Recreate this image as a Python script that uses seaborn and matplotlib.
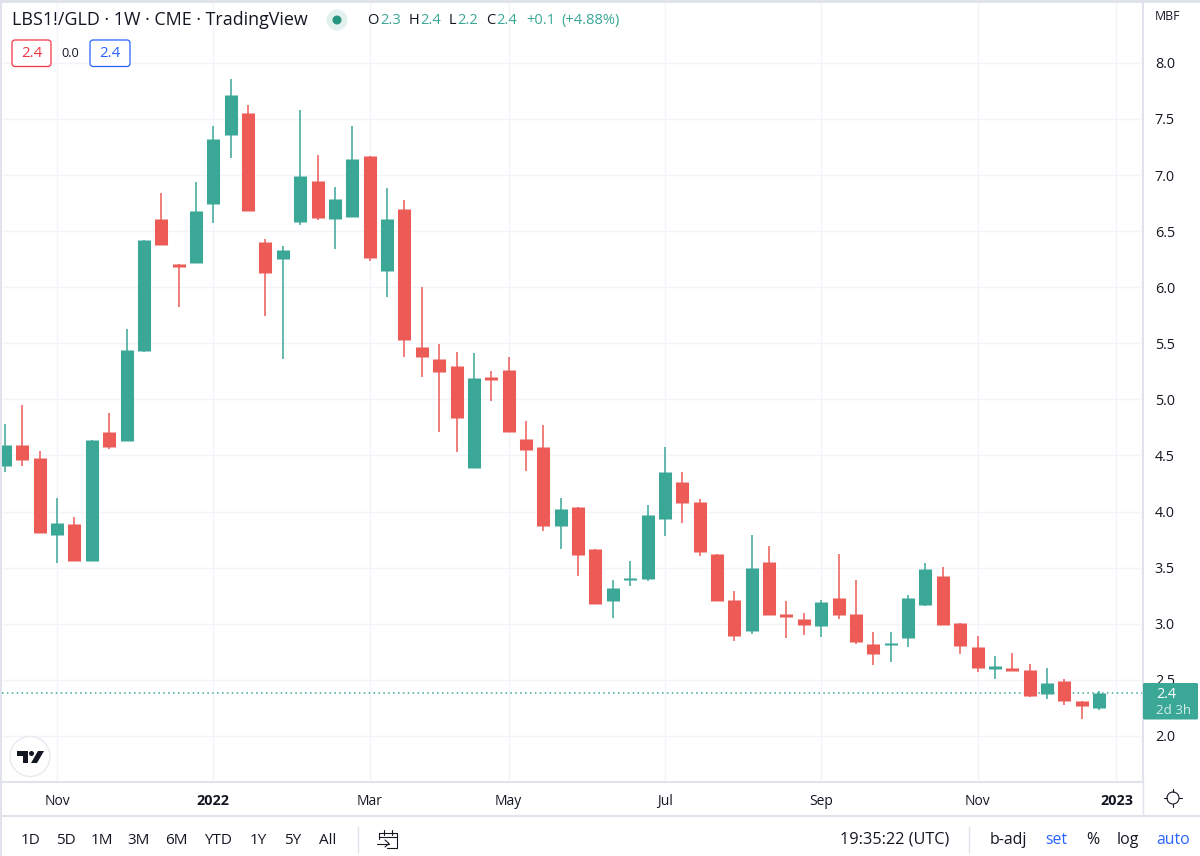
import numpy as np
import pandas as pd
import matplotlib
matplotlib.use("Agg")
import matplotlib.pyplot as plt
from matplotlib.patches import Circle, FancyBboxPatch, Polygon, Rectangle
import seaborn as sns

opens = [4.41, 4.59, 4.48, 3.79, 3.89, 3.56, 4.71, 4.63, 5.43, 6.61, 6.21, 6.22, 6.74, 7.36, 7.55, 6.40,
         6.25, 6.58, 6.95, 6.61, 6.63, 7.17, 6.14, 6.70, 5.47, 5.36, 5.30, 4.39, 5.20, 5.26, 4.65, 4.58,
         3.87, 4.04, 3.67, 3.20, 3.39, 3.40, 3.93, 4.26, 4.09, 3.62, 3.21, 2.94, 3.55, 3.09, 3.04, 2.98,
         3.23, 3.09, 2.82, 2.81, 2.87, 3.17, 3.43, 3.01, 2.79, 2.60, 2.61, 2.59, 2.37, 2.49, 2.31, 2.25]
highs = [4.78, 4.95, 4.54, 4.12, 3.95, 4.64, 4.88, 5.63, 6.42, 6.84, 6.21, 6.94, 7.44, 7.86, 7.62, 6.43,
         6.37, 7.58, 7.18, 6.89, 7.44, 7.17, 6.88, 6.78, 6.00, 5.49, 5.42, 5.41, 5.25, 5.38, 4.81, 4.77,
         4.12, 4.04, 3.67, 3.39, 3.56, 4.06, 4.58, 4.35, 4.11, 3.62, 3.29, 3.79, 3.69, 3.20, 3.10, 3.21,
         3.62, 3.39, 2.93, 2.93, 3.26, 3.54, 3.51, 3.01, 2.89, 2.71, 2.74, 2.64, 2.61, 2.51, 2.31, 2.40]
lows = [4.35, 4.41, 3.81, 3.54, 3.56, 3.56, 4.56, 4.63, 5.42, 6.38, 5.82, 6.22, 6.57, 7.15, 6.68, 5.74,
        5.36, 6.55, 6.60, 6.34, 6.63, 6.23, 5.91, 5.38, 5.20, 4.71, 4.53, 4.39, 4.99, 4.71, 4.36, 3.83,
        3.67, 3.43, 3.18, 3.05, 3.34, 3.38, 3.78, 3.90, 3.60, 3.20, 2.85, 2.91, 3.08, 2.87, 2.90, 2.88,
        3.04, 2.82, 2.63, 2.66, 2.79, 3.16, 2.99, 2.73, 2.57, 2.51, 2.58, 2.35, 2.33, 2.28, 2.15, 2.23]
closes = [4.59, 4.46, 3.81, 3.90, 3.56, 4.64, 4.58, 5.44, 6.42, 6.38, 6.18, 6.68, 7.32, 7.71, 6.68, 6.13,
          6.33, 6.99, 6.62, 6.79, 7.14, 6.26, 6.61, 5.53, 5.38, 5.24, 4.83, 5.19, 5.17, 4.71, 4.55, 3.87,
          4.02, 3.61, 3.18, 3.32, 3.41, 3.97, 4.35, 4.08, 3.64, 3.20, 2.89, 3.50, 3.08, 3.06, 2.99, 3.19,
          3.08, 2.84, 2.73, 2.83, 3.23, 3.49, 2.99, 2.80, 2.61, 2.62, 2.58, 2.36, 2.47, 2.31, 2.27, 2.38]

price_ticks = [2.0, 2.5, 3.0, 3.5, 4.0, 4.5, 5.0, 5.5, 6.0, 6.5, 7.0, 7.5, 8.0]
date_ticks = [3, 12, 21, 29, 38, 47, 56, 64]
date_labels = ["Nov", "2022", "Mar", "May", "Jul", "Sep", "Nov", "2023"]
range_buttons = ["1D", "5D", "1M", "3M", "6M", "YTD", "1Y", "5Y", "All"]

GREEN = "#3aa797"
RED = "#ec5b56"
TEXT = "#131722"
GRID = "#f2f4fa"
BORDER = "#e0e3eb"
BLUE = "#2962ff"
FONT = ["Open Sans", "DejaVu Sans"]

sns.set_theme(style="whitegrid", rc={"grid.color": GRID, "grid.linewidth": 1.0})
plt.rcParams["font.family"] = FONT

bars = np.arange(len(opens))
direction = np.where(np.array(closes) >= np.array(opens), "up", "down")
palette = {"up": GREEN, "down": RED}

wicks = pd.DataFrame({
    "bar": np.tile(bars, 2),
    "price": lows + highs,
    "direction": np.tile(direction, 2),
})
bodies = pd.DataFrame({
    "bar": np.tile(bars, 2),
    "price": opens + closes,
    "direction": np.tile(direction, 2),
})

fig = plt.figure(figsize=(12, 8.56), dpi=100, facecolor="white")
ax = fig.add_axes([2 / 1200, 74 / 856, 1141 / 1200, 779 / 856])

sns.lineplot(data=wicks, x="bar", y="price", hue="direction", units="bar", estimator=None,
             palette=palette, linewidth=1.1, legend=False, ax=ax, solid_capstyle="butt")
sns.lineplot(data=bodies, x="bar", y="price", hue="direction", units="bar", estimator=None,
             palette=palette, linewidth=9.4, legend=False, ax=ax, solid_capstyle="butt")

ax.axhline(closes[-1], color=GREEN, linewidth=1.1, linestyle=(0, (1, 2.2)), zorder=1)

ax.set_xlim(-0.173, 65.53)
ax.set_ylim(1.59, 8.533)
ax.set_xlabel("")
ax.set_ylabel("")
ax.yaxis.tick_right()
ax.set_yticks(price_ticks)
ax.set_yticklabels([f"{p:.1f}" for p in price_ticks], fontsize=10.4, color=TEXT)
ax.set_xticks(date_ticks)
ax.set_xticklabels(date_labels, fontsize=10, color=TEXT)
ax.tick_params(axis="y", length=0, pad=8.5)
ax.tick_params(axis="x", length=0, pad=8.5)
for lab, name in zip(ax.get_xticklabels(), date_labels):
    if name.startswith("20"):
        lab.set_fontweight("bold")
        lab.set_fontsize(10.4)
for side in ["left", "top"]:
    ax.spines[side].set_visible(False)
for side in ["right", "bottom"]:
    ax.spines[side].set_color(BORDER)
    ax.spines[side].set_linewidth(1.5)

# toolbar and legend overlay, in screen pixels
ui = fig.add_axes([0, 0, 1, 1], facecolor="none")
ui.set_xlim(0, 1200)
ui.set_ylim(856, 0)
ui.axis("off")

ui.add_patch(Rectangle((0, 0), 1200, 2.5, color=BORDER, lw=0))
ui.add_patch(Rectangle((0, 0), 2, 856, color=BORDER, lw=0))
ui.plot([2, 1200], [816, 816], color=BORDER, lw=1.5)
ui.plot([1143, 1143], [782, 816], color=BORDER, lw=1)
ui.plot([357.5, 357.5], [827, 853], color=BORDER, lw=1)
ui.plot([969, 969], [827, 853], color=BORDER, lw=1)

ui.text(12, 20, "LBS1!/GLD · 1W · CME · TradingView", fontsize=12.9, color=TEXT, va="center")
ui.add_patch(Circle((337, 20), 10.5, color="#e3f1ee", lw=0))
ui.add_patch(Circle((337, 20), 4.5, color="#26957f", lw=0))
for x, s, c in [(367, "O", TEXT), (380, "2.3", GREEN), (409, "H", TEXT), (420, "2.4", GREEN),
                (449, "L", TEXT), (457, "2.2", GREEN), (486.5, "C", TEXT), (496, "2.4", GREEN),
                (526.5, "+0.1", GREEN), (561, "(+4.88%)", GREEN)]:
    ui.text(x, 20.5, s, fontsize=10.5, color=c, va="center")

for x0, x1, col in [(12, 51, "#f23645"), (90, 130, BLUE)]:
    ui.add_patch(FancyBboxPatch((x0, 40), x1 - x0, 26.5, boxstyle="round,pad=0,rounding_size=3",
                                fc="white", ec=col, lw=0.9))
    ui.text((x0 + x1) / 2, 53, "2.4", fontsize=10.8, color=col, ha="center", va="center")
ui.text(70.5, 53, "0.0", fontsize=9.2, color=TEXT, ha="center", va="center")

ui.text(1168, 16.5, "MBF", fontsize=8.8, color=TEXT, ha="center", va="center")

ui.add_patch(FancyBboxPatch((1143, 683), 55, 36.5, boxstyle="round,pad=0,rounding_size=1.5",
                            fc=GREEN, ec=GREEN, lw=0))
ui.text(1156, 694, "2.4", fontsize=10.4, color="white", va="center")
ui.text(1156, 710, "2d 3h", fontsize=9.6, color="#d5ede9", va="center")

# TradingView logo
ui.add_patch(Circle((30, 756.5), 20, fc="white", ec="#e8eaee", lw=1))
ui.add_patch(Polygon([(17, 751), (28, 751), (28, 763), (23, 763), (23, 756), (17, 756)], color=TEXT, lw=0))
ui.add_patch(Circle((31.5, 753.5), 2.5, color=TEXT, lw=0))
ui.add_patch(Polygon([(38, 751), (44, 751), (37, 763), (31, 763)], color=TEXT, lw=0))

# sun icon
ui.add_patch(Circle((1173, 798), 6, fc="white", ec=TEXT, lw=0.8))
for ang in np.radians([0, 90, 180, 270]):
    ui.plot([1173 + 6 * np.cos(ang), 1173 + 9 * np.cos(ang)],
            [798 + 6 * np.sin(ang), 798 + 9 * np.sin(ang)], color=TEXT, lw=0.8)

for cx, s in zip([31, 66, 102, 139, 176, 218, 258, 293, 328], range_buttons):
    ui.text(cx, 840, s, fontsize=11, color=TEXT, ha="center", va="center")

# calendar icon
ui.plot([379, 379, 397, 397, 387], [839, 833, 833, 848, 848], color=TEXT, lw=0.8)
ui.plot([379, 397], [837, 837], color=TEXT, lw=0.8)
ui.plot([384, 384], [830, 835], color=TEXT, lw=0.8)
ui.plot([392, 392], [830, 835], color=TEXT, lw=0.8)
ui.plot([377, 389], [843.5, 843.5], color=TEXT, lw=0.8)
ui.plot([385, 389, 385], [840, 843.5, 847], color=TEXT, lw=0.8)

ui.text(949, 840, "19:35:22 (UTC)", fontsize=11.7, color=TEXT, ha="right", va="center")
for cx, s, c in [(1008, "b-adj", TEXT), (1056, "set", BLUE), (1093, "%", TEXT), (1128, "log", TEXT), (1173, "auto", BLUE)]:
    ui.text(cx, 840, s, fontsize=11.4, color=c, ha="center", va="center")

fig.savefig("out.png", dpi=100)
print("[OK] out.png")
